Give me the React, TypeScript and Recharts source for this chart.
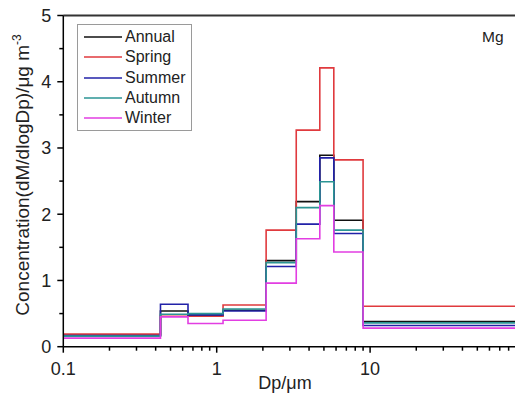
import React from 'react';
import { LineChart, Line, XAxis, YAxis, Legend, ReferenceLine } from 'recharts';

// Andersen impactor cut points (µm), last bin closed at 100
const EDGES = [0.1, 0.43, 0.65, 1.1, 2.1, 3.3, 4.7, 5.8, 9.0, 100];

const ANNUAL = [0.17, 0.54, 0.47, 0.55, 1.3, 2.19, 2.89, 1.91, 0.38];
const SPRING = [0.19, 0.46, 0.46, 0.63, 1.76, 3.27, 4.21, 2.82, 0.61];
const SUMMER = [0.17, 0.64, 0.48, 0.54, 1.21, 1.85, 2.85, 1.71, 0.32];
const AUTUMN = [0.16, 0.49, 0.5, 0.57, 1.27, 2.1, 2.49, 1.76, 0.36];
const WINTER = [0.13, 0.45, 0.35, 0.4, 0.96, 1.63, 2.13, 1.43, 0.28];

const X_TICKS = [
  0.1, 0.2, 0.3, 0.4, 0.5, 0.6, 0.7, 0.8, 0.9,
  1, 2, 3, 4, 5, 6, 7, 8, 9,
  10, 20, 30, 40, 50, 60, 70, 80, 90, 100,
];
const X_LABELS = [0.1, 1, 10];
const Y_TICKS = [0, 0.5, 1, 1.5, 2, 2.5, 3, 3.5, 4, 4.5, 5];

const SERIES = [
  { key: 'annual', name: 'Annual', color: '#111111', values: ANNUAL },
  { key: 'spring', name: 'Spring', color: '#e03a3e', values: SPRING },
  { key: 'summer', name: 'Summer', color: '#2222a8', values: SUMMER },
  { key: 'autumn', name: 'Autumn', color: '#2b9494', values: AUTUMN },
  { key: 'winter', name: 'Winter', color: '#e23ee2', values: WINTER },
];

// stepAfter needs the last bin value repeated at the right edge
const data = EDGES.map((x, i) => {
  const row: any = { x };
  SERIES.forEach((s) => {
    row[s.key] = s.values[Math.min(i, s.values.length - 1)];
  });
  return row;
});

const FONT = '"Liberation Sans", Arial, sans-serif';

const XTick = ({ x, y, payload }: any) => {
  const v = payload.value;
  const major = X_LABELS.includes(v) || v === 100;
  return (
    <g>
      <line x1={x} y1={y} x2={x} y2={y + (major ? 6 : 4)} stroke="#000" strokeWidth={1.5} />
      {X_LABELS.includes(v) && (
        <text x={x} y={y + 28} textAnchor="middle" fontSize={18} fill="#222" fontFamily={FONT}>
          {v}
        </text>
      )}
    </g>
  );
};

const YTick = ({ x, y, payload }: any) => {
  const v = payload.value;
  const major = Number.isInteger(v);
  return (
    <g>
      <line x1={x} y1={y} x2={x - (major ? 6 : 4)} y2={y} stroke="#000" strokeWidth={1.5} />
      {major && (
        <text x={x - 12} y={y + 6.5} textAnchor="end" fontSize={18} fill="#222" fontFamily={FONT}>
          {v}
        </text>
      )}
    </g>
  );
};

const LegendBox = () => (
  <div
    style={{
      border: '1px solid #9a9a9a',
      padding: '2px 4px 2px 5px',
      fontFamily: FONT,
      fontSize: 16,
      color: '#222',
      background: '#fff',
      width: 104,
    }}
  >
    {SERIES.map((s) => (
      <div key={s.key} style={{ display: 'flex', alignItems: 'center', height: 20.3 }}>
        <svg width={42} height={6}>
          <line x1={1} y1={3} x2={39} y2={3} stroke={s.color} strokeWidth={1.6} />
        </svg>
        <span style={{ lineHeight: '20px' }}>{s.name}</span>
      </div>
    ))}
  </div>
);

export default function App() {
  return (
    <div
      style={{
        position: 'absolute',
        left: 0,
        top: 0,
        width: 515,
        height: 399,
        overflow: 'hidden',
        background: '#fff',
      }}
    >
      <LineChart
        width={530}
        height={399}
        data={data}
        margin={{ top: 15.5, right: 6.5, bottom: 0, left: 0 }}
      >
        <XAxis
          dataKey="x"
          type="number"
          scale="log"
          domain={[0.1, 100]}
          allowDataOverflow
          ticks={X_TICKS}
          interval={0}
          tickSize={0}
          tickMargin={0}
          tick={<XTick />}
          axisLine={{ stroke: '#000', strokeWidth: 1.5 }}
          tickLine={false}
          height={52.3}
          label={{
            content: () => (
              <text x={285} y={389} textAnchor="middle" fontSize={18} fill="#222" fontFamily={FONT}>
                Dp/μm
              </text>
            ),
          }}
        />
        <YAxis
          type="number"
          domain={[0, 5]}
          ticks={Y_TICKS}
          interval={0}
          width={63.3}
          tickSize={0}
          tickMargin={0}
          tick={<YTick />}
          axisLine={{ stroke: '#000', strokeWidth: 1.5 }}
          tickLine={false}
          label={{
            content: () => (
              <text
                x={0}
                y={0}
                transform="translate(29, 175) rotate(-90)"
                textAnchor="middle"
                fontSize={19}
                fill="#222"
                fontFamily={FONT}
              >
                Concentration(dM/dlogDp)/μg m
                <tspan dy={-8} fontSize={12}>-3</tspan>
              </text>
            ),
          }}
        />
        <ReferenceLine y={5} stroke="#333" strokeWidth={2} />
        {SERIES.map((s) => (
          <Line
            key={s.key}
            type="stepAfter"
            dataKey={s.key}
            name={s.name}
            stroke={s.color}
            strokeWidth={1.6}
            dot={false}
            activeDot={false}
            isAnimationActive={false}
          />
        ))}
        <Legend
          layout="vertical"
          align="center"
          verticalAlign="middle"
          content={<LegendBox />}
          wrapperStyle={{ left: 77, top: 24, width: 'auto' }}
        />
        <text x={482} y={42} fontSize={15.5} fill="#222" fontFamily={FONT}>
          Mg
        </text>
      </LineChart>
    </div>
  );
}
